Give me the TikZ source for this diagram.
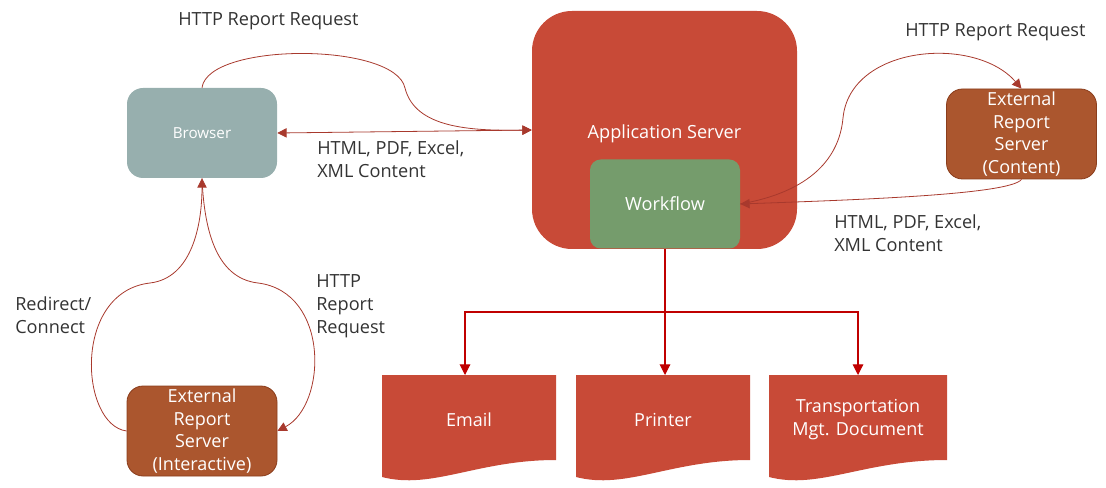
\documentclass[tikz,border=0pt]{standalone}
\usepackage{fontspec}
\setmainfont{Open Sans}
\usetikzlibrary{arrows.meta}
\definecolor{brgray}{HTML}{97AFAE}
\definecolor{appred}{HTML}{C84A37}
\definecolor{wfgreen}{HTML}{759C6C}
\definecolor{extbrown}{HTML}{AB562E}
\definecolor{extborder}{HTML}{8A3D1C}
\definecolor{connred}{HTML}{A8392D}
\definecolor{treered}{HTML}{C00000}
\definecolor{labelgray}{HTML}{333333}
\tikzset{
  box/.style={rounded corners=12, text=white, align=center, inner sep=0pt},
  extbox/.style={box, fill=extbrown, draw=extborder, line width=0.6pt, minimum width=112.5pt, minimum height=67.5pt, font=\fontsize{13.5}{17}\selectfont},
  docnode/.style={text=white, align=center, inner sep=0pt, font=\fontsize{13.5}{17.3}\selectfont},
  conn/.style={draw=connred, line width=0.6pt, -{Triangle[length=7pt,width=7pt]}},
  tree/.style={draw=treered, line width=0.8pt},
  lbl/.style={text=labelgray, align=left, anchor=north west, inner sep=0pt, font=\fontsize{13.6}{17.2}\selectfont},
}
\begin{document}
\begin{tikzpicture}[x=0.75pt,y=-0.75pt]
\useasboundingbox (0,0) rectangle (1106,488);
% main boxes
\node[box, fill=appred, rounded corners=30, minimum width=198.75pt, minimum height=178.5pt] (app) at (664.5,130) {};
\node[text=white, font=\fontsize{13.6}{16}\selectfont] (apptext) at (664.5,133.5) {Application Server};
\node[box, fill=wfgreen, rounded corners=8, minimum width=112.5pt, minimum height=66.75pt, font=\fontsize{13.6}{16}\selectfont] (wf) at (665,204) {Workflow};
\node[box, fill=brgray, minimum width=112.5pt, minimum height=67.5pt, font=\fontsize{11.4}{14}\selectfont] (browser) at (202,133) {Browser};
\node[extbox] (extc) at (1021.5,134) {External\\Report\\Server\\(Content)};
\node[extbox] (exti) at (202,431) {External\\Report\\Server\\(Interactive)};
% document shapes
\foreach \name/\xa/\xb/\txt in {email/382/556/Email, printer/576/750/Printer, tmd/769/947/{Transportation\\Mgt. Document}}{
  \fill[appred] (\xa,375) -- (\xb,375) -- (\xb,460)
     .. controls (\xa+95,460) and (\xa+50,490) .. (\xa,477) -- cycle;
  \node[docnode] (\name) at ({(\xa+\xb)/2},420) {\txt};
}
\coordinate (emailtop) at (465,375);
\coordinate (printertop) at (665,375);
\coordinate (tmdtop) at (858,375);
\coordinate (split) at (665,312);
% tree connectors
\draw[tree, -{Triangle[length=8pt,width=8pt]}] (wf.south) -- (printertop);
\draw[tree, -{Triangle[length=8pt,width=8pt]}] (split) -| (emailtop);
\draw[tree, -{Triangle[length=8pt,width=8pt]}] (split) -| (tmdtop);
% browser <-> app
\draw[conn] (browser.north) .. controls (208,42) and (395,42) .. (405,88)
   .. controls (415,128) and (470,131) .. (app.west);
\draw[conn, {Triangle[length=7pt,width=7pt]}-{Triangle[length=7pt,width=7pt]}] (browser.east) -- (app.west);
% workflow <-> external content
\draw[conn] (wf.east) .. controls (820,190) and (840,150) .. (843,118)
   .. controls (850,45) and (975,35) .. (extc.north);
\draw[conn] (extc.south) .. controls (1010,195) and (850,200) .. (wf.east);
% browser <-> external interactive
\draw[conn] (exti.west) .. controls (80,425) and (72,292) .. (150,283)
   .. controls (192,278) and (202,225) .. (browser.south);
\draw[conn] (browser.south) .. controls (204,225) and (214,278) .. (258,283)
   .. controls (330,292) and (327,405) .. (exti.east);
% labels
\node[lbl] (l1) at (178,12) {HTTP Report Request};
\node[lbl] (l2) at (317,140.5) {HTML, PDF, Excel,\\XML Content};
\node[lbl] (l3) at (905,23) {HTTP Report Request};
\node[lbl] (l4) at (834,214.5) {HTML, PDF, Excel,\\XML Content};
\node[lbl] (l5) at (15,296.5) {Redirect/\\Connect};
\node[lbl] (l6) at (316,274.5) {HTTP\\Report\\Request};
\end{tikzpicture}
\end{document}
